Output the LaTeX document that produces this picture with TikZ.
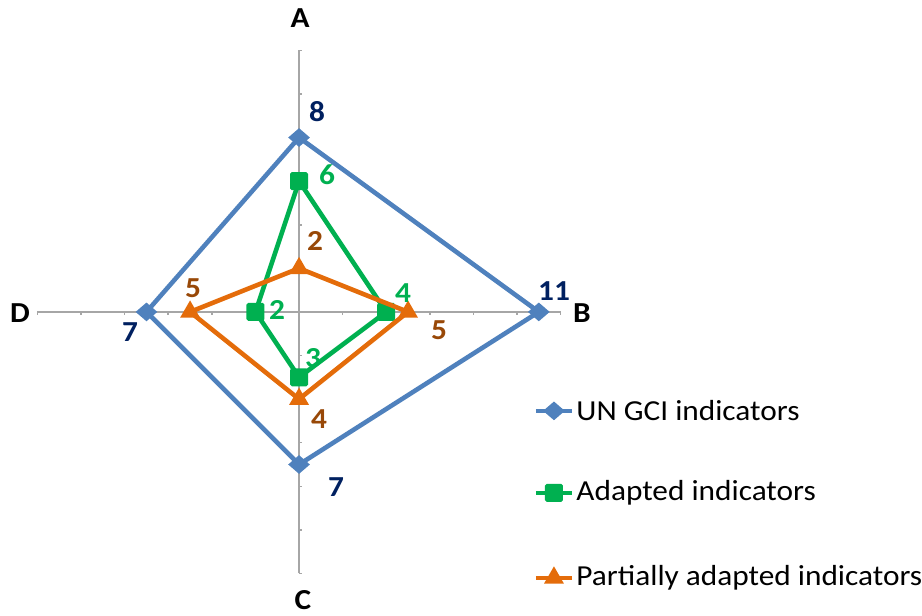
\documentclass[tikz,border=0pt]{standalone}
\usepackage{fontspec}
\setmainfont[FakeStretch=1.08]{Carlito}
\usetikzlibrary{shapes.geometric,calc}
\definecolor{unblue}{HTML}{4F81BD}
\definecolor{adgreen}{HTML}{00B050}
\definecolor{paorange}{HTML}{E46C0A}
\definecolor{unnavy}{HTML}{002060}
\definecolor{pabrown}{HTML}{984807}
\definecolor{axgray}{HTML}{A6A6A6}
\tikzset{
	axis/.style={draw=axgray,line width=0.9pt},
	lnU/.style={draw=unblue,line width=2.6pt,line join=round},
	lnA/.style={draw=adgreen,line width=2.6pt,line join=round},
	lnP/.style={draw=paorange,line width=2.6pt,line join=round},
	mkU/.style={diamond,fill=unblue,inner sep=0pt,minimum width=0.44cm,minimum height=0.38cm},
	mkA/.style={rectangle,fill=adgreen,inner sep=0pt,minimum size=0.36cm,rounded corners=1pt},
	mkP/.style={regular polygon,regular polygon sides=3,fill=paorange,inner sep=0pt,minimum size=0.46cm},
	val/.style={font=\fontsize{16.5}{19}\selectfont\bfseries,inner sep=0pt},
	axlbl/.style={font=\fontsize{16.5}{19}\selectfont\bfseries,inner sep=0pt},
	legtxt/.style={font=\fontsize{16.5}{19}\selectfont,anchor=west,inner sep=0pt}
}
\begin{document}
\begin{tikzpicture}[x=0.436cm,y=0.436cm]
	\useasboundingbox (-13.72,-13.94) rectangle (28.58,14.31);
	% axes and ticks
	\draw[axis] (-12,0) -- (12,0);
	\draw[axis] (0,-12) -- (0,12);
	\foreach \t in {2,4,...,12} {
		\draw[axis] (\t,0) -- (\t,-0.12);
		\draw[axis] (-\t,0) -- (-\t,-0.12);
		\draw[axis] (0,\t) -- (0.12,\t);
		\draw[axis] (0,-\t) -- (0.12,-\t);
	}
	\node[axlbl] (la) at (0.05,13.49) {A};
	\node[axlbl] (lb) at (12.98,-0.05) {B};
	\node[axlbl] (lc) at (0.18,-13.2) {C};
	\node[axlbl] (ld) at (-12.8,-0.05) {D};
	% data points
	\coordinate (ua) at (0,8);  \coordinate (ub) at (11,0);
	\coordinate (uc) at (0,-7); \coordinate (ud) at (-7,0);
	\coordinate (aa) at (0,6);  \coordinate (ab) at (4,0);
	\coordinate (ac) at (0,-3); \coordinate (ad) at (-2,0);
	\coordinate (pa) at (0,2);  \coordinate (pb) at (5,0);
	\coordinate (pc) at (0,-4); \coordinate (pd) at (-5,0);
	% series
	\draw[lnU] (ua) -- (ub) -- (uc) -- (ud) -- cycle;
	\foreach \n in {ua,ub,uc,ud} \node[mkU] (m\n) at (\n) {};
	\draw[lnA] (aa) -- (ab) -- (ac) -- (ad) -- cycle;
	\foreach \n in {aa,ab,ac,ad} \node[mkA] (m\n) at (\n) {};
	\draw[lnP] (pa) -- (pb) -- (pc) -- (pd) -- cycle;
	\foreach \n in {pa,pb,pc,pd} \node[mkP] (m\n) at (\n) {};
	% values
	\node[val,text=unnavy] (vua) at (0.83,9.17) {8};
	\node[val,text=unnavy] (vub) at (11.70,0.96) {11};
	\node[val,text=unnavy] (vuc) at (1.70,-8.03) {7};
	\node[val,text=unnavy] (vud) at (-7.75,-0.92) {7};
	\node[val,text=adgreen] (vaa) at (1.28,6.28) {6};
	\node[val,text=adgreen] (vab) at (4.77,0.87) {4};
	\node[val,text=adgreen] (vac) at (0.64,-2.11) {3};
	\node[val,text=adgreen] (vad) at (-1.01,0.09) {2};
	\node[val,text=pabrown] (vpa) at (0.73,3.26) {2};
	\node[val,text=pabrown] (vpb) at (6.42,-0.83) {5};
	\node[val,text=pabrown] (vpc) at (0.92,-4.91) {4};
	\node[val,text=pabrown] (vpd) at (-4.86,1.10) {5};
	% legend
	\coordinate (gu1) at (10.87,-4.54); \coordinate (gu2) at (12.52,-4.54);
	\coordinate (ga1) at (10.87,-8.30); \coordinate (ga2) at (12.52,-8.30);
	\coordinate (gp1) at (10.87,-12.20); \coordinate (gp2) at (12.52,-12.20);
	\draw[lnU] (gu1) -- (gu2);
	\node[mkU] (kgu) at ($(gu1)!0.5!(gu2)$) {};
	\draw[lnA] (ga1) -- (ga2);
	\node[mkA] (kga) at ($(ga1)!0.5!(ga2)$) {};
	\draw[lnP] (gp1) -- (gp2);
	\node[mkP] (kgp) at ($(gp1)!0.5!(gp2)$) {};
	\node[legtxt] (tgu) at (12.71,-4.54) {UN GCI indicators};
	\node[legtxt] (tga) at (12.71,-8.30) {Adapted indicators};
	\node[legtxt] (tgp) at (12.71,-12.20) {Partially adapted indicators};
\end{tikzpicture}
\end{document}
